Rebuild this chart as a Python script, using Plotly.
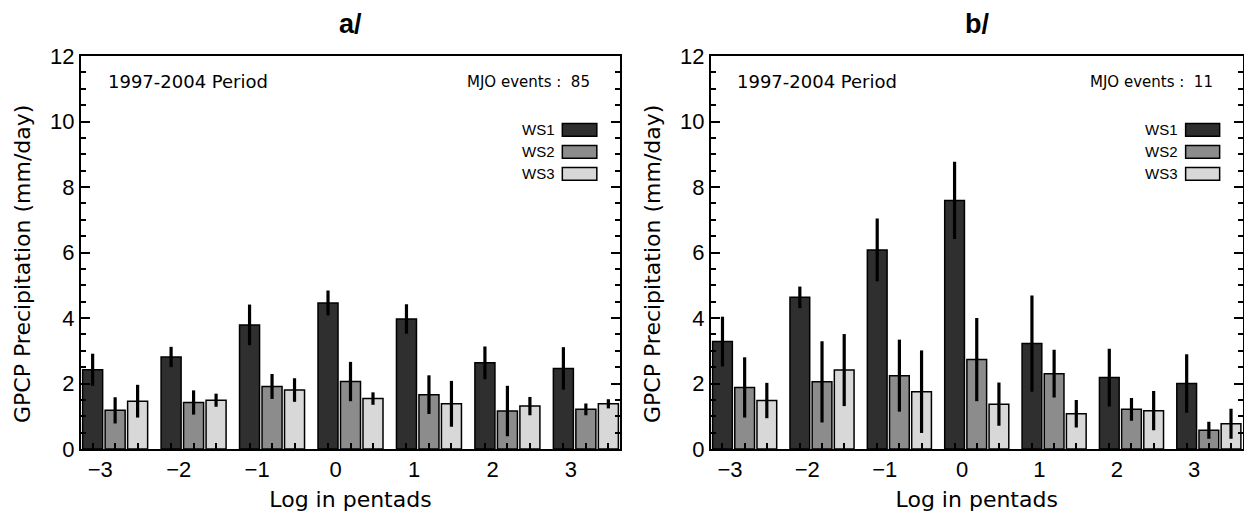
import plotly.graph_objects as go

# ---------------- data ----------------
lags = [-3, -2, -1, 0, 1, 2, 3]
lag_labels = ["\u22123", "\u22122", "\u22121", "0", "1", "2", "3"]
series_names = ["WS1", "WS2", "WS3"]

# panel a (MJO events : 85)
a_ws1 = [2.42, 2.81, 3.79, 4.46, 3.97, 2.63, 2.46]
a_ws1_err = [0.49, 0.31, 0.62, 0.38, 0.45, 0.50, 0.65]
a_ws2 = [1.18, 1.42, 1.91, 2.06, 1.66, 1.16, 1.21]
a_ws2_err = [0.40, 0.37, 0.38, 0.60, 0.59, 0.77, 0.18]
a_ws3 = [1.46, 1.49, 1.80, 1.54, 1.38, 1.31, 1.38]
a_ws3_err = [0.50, 0.20, 0.36, 0.19, 0.70, 0.28, 0.14]

# panel b (MJO events : 11)
b_ws1 = [3.28, 4.63, 6.08, 7.59, 3.22, 2.18, 2.00]
b_ws1_err = [0.76, 0.33, 0.96, 1.18, 1.47, 0.88, 0.89]
b_ws2 = [1.88, 2.05, 2.24, 2.73, 2.30, 1.21, 0.57]
b_ws2_err = [0.92, 1.24, 1.10, 1.27, 0.73, 0.35, 0.26]
b_ws3 = [1.48, 2.41, 1.75, 1.37, 1.08, 1.17, 0.77]
b_ws3_err = [0.54, 1.10, 1.26, 0.66, 0.42, 0.60, 0.46]

panel_titles = ["a/", "b/"]
period_text = "1997-2004 Period"
mjo_counts = [85, 11]
y_title = "GPCP Precipitation (mm/day)"
x_title = "Log in pentads"

# ---------------- styling ----------------
colors = ["#2f2f2f", "#8c8c8c", "#d8d8d8"]
FONT = "Liberation Sans"
FONT2 = "DejaVu Sans"
OFF = 8                               # page body margin
W, H = 1252 - 2 * OFF, 520 - 2 * OFF  # figure size that fits the page body
BARGAP = 0.14
BARGROUPGAP = 0.11
slot = (1 - BARGAP) / 3.0
label_shift = -0.19


def px_x(x):
    return (x - OFF) / W


def px_y(y):
    return 1 - (y - OFF) / H


panels = [
    dict(vals=[a_ws1, a_ws2, a_ws3], errs=[a_ws1_err, a_ws2_err, a_ws3_err],
         xd=[px_x(81), px_x(620)], ytx=px_x(22)),
    dict(vals=[b_ws1, b_ws2, b_ws3], errs=[b_ws1_err, b_ws2_err, b_ws3_err],
         xd=[px_x(711), px_x(1242.5)], ytx=px_x(652)),
]
ydom = [px_y(449), px_y(56)]

fig = go.Figure()
for i, p in enumerate(panels):
    sfx = "" if i == 0 else "2"
    for k in range(3):
        fig.add_trace(go.Bar(
            x=lags, y=p["vals"][k], name=series_names[k],
            xaxis="x" + sfx, yaxis="y" + sfx, showlegend=False,
            marker=dict(color=colors[k], line=dict(color="black", width=1.5)),
            error_y=dict(type="data", array=p["errs"][k], color="black",
                         thickness=3.2, width=0),
        ))

bar_centres = [l + (k - 1) * slot for l in lags for k in range(3)]
tick_pos = [l + label_shift for l in lags]

layout = dict(
    width=W, height=H, margin=dict(l=0, r=0, t=0, b=0, autoexpand=False),
    paper_bgcolor="white", plot_bgcolor="white",
    barmode="group", bargap=BARGAP, bargroupgap=BARGROUPGAP,
    font=dict(family=FONT, color="black"),
)

annotations = []
shapes = []
for i, p in enumerate(panels):
    sfx = "" if i == 0 else "2"
    layout["xaxis" + sfx] = dict(
        domain=p["xd"], anchor="y" + sfx, range=[-3.435, 3.435], automargin=False,
        tickmode="array", tickvals=tick_pos, ticktext=lag_labels,
        ticks="inside", ticklen=0, tickfont=dict(size=22, family=FONT),
        showline=True, linecolor="black", linewidth=2, mirror=True,
        showgrid=False, zeroline=False,
        minor=dict(tickmode="array", tickvals=bar_centres, ticks="inside",
                   ticklen=6, tickwidth=2, tickcolor="black", showgrid=False),
        title=dict(text=x_title, font=dict(size=22, family=FONT2), standoff=11),
    )
    layout["yaxis" + sfx] = dict(
        domain=ydom, anchor="x" + sfx, range=[0, 12], dtick=2, tick0=0,
        automargin=False,
        ticks="inside", ticklen=9, tickwidth=2, tickcolor="black",
        tickfont=dict(size=22, family=FONT),
        showline=True, linecolor="black", linewidth=2, mirror="allticks",
        showgrid=False, zeroline=False,
        minor=dict(dtick=0.5, ticks="inside", ticklen=5, tickwidth=1.5,
                   tickcolor="black", showgrid=False),
    )
    xd = "x" + sfx + " domain"
    yd = "y" + sfx + " domain"
    annotations.append(dict(text=y_title, xref="paper", yref="paper",
                            x=p["ytx"], y=px_y(264), xanchor="center", yanchor="middle",
                            textangle=-90, showarrow=False,
                            font=dict(size=22, family=FONT2)))
    annotations.append(dict(text="<b>" + panel_titles[i] + "</b>", xref=xd, yref="paper",
                            x=0.5, y=px_y(24), xanchor="center", yanchor="middle",
                            showarrow=False, font=dict(size=27, family=FONT)))
    annotations.append(dict(text=period_text, xref=xd, yref=yd, x=0.046, y=0.934,
                            xanchor="left", yanchor="middle", showarrow=False,
                            font=dict(size=18, family=FONT2)))
    annotations.append(dict(text="MJO events :  %d" % mjo_counts[i], xref=xd, yref=yd,
                            x=0.948, y=0.934, xanchor="right", yanchor="middle",
                            showarrow=False, font=dict(size=15, family=FONT2)))
    for k in range(3):
        yc = 0.812 - k * 0.056
        annotations.append(dict(text=series_names[k], xref=xd, yref=yd, x=0.883, y=yc,
                                xanchor="right", yanchor="middle", showarrow=False,
                                font=dict(size=15, family=FONT)))
        shapes.append(dict(type="rect", xref=xd, yref=yd, x0=0.893, x1=0.957,
                           y0=yc - 0.016, y1=yc + 0.016, fillcolor=colors[k],
                           line=dict(color="black", width=1.5)))

layout["annotations"] = annotations
layout["shapes"] = shapes
fig.update_layout(**layout)
fig.write_html("out.html")
